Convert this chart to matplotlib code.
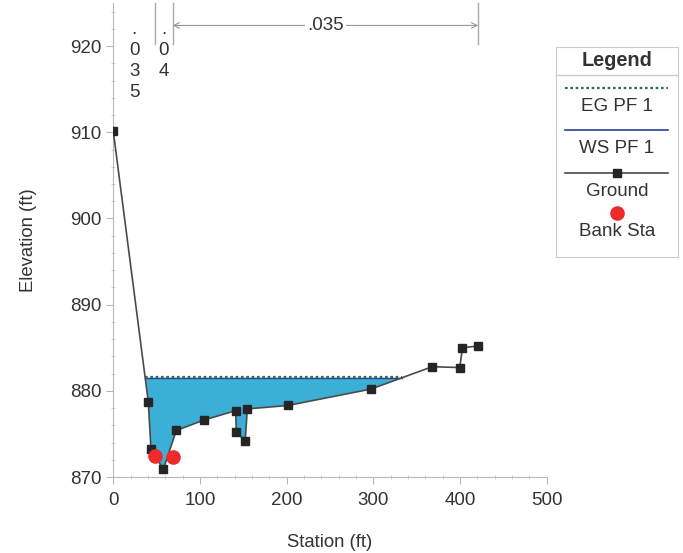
import numpy as np
import matplotlib
matplotlib.use('Agg')
import matplotlib.pyplot as plt

plt.rcParams['font.family'] = ['Liberation Sans', 'DejaVu Sans']

# 地形データ (station, elevation)
station = [0, 40.4, 43.5, 57.7, 72.7, 104.3, 141.2, 141.9, 152.2, 154.6,
           201.5, 297.2, 368.0, 399.7, 402.8, 421.0]
elevation = [910.1, 878.7, 873.2, 870.9, 875.4, 876.6, 877.7, 875.2, 874.2, 877.9,
             878.3, 880.2, 882.8, 882.7, 885.0, 885.2]
bank_sta = [48.1, 68.5]
bank_elev = [872.4, 872.3]
ws_elev = 881.5
eg_elev = 881.65
n_values = ['.035', '.04', '.035']

station = np.array(station)
elevation = np.array(elevation)

fig = plt.figure(figsize=(6.83, 5.53), dpi=100)
ax = fig.add_axes([113.3 / 683, 76 / 553, 433.4 / 683, 474 / 553])

# 水面と地形の交点
below = np.where(elevation < ws_elev)[0]
i0, i1 = below[0], below[-1]
x_left = np.interp(ws_elev, [elevation[i0], elevation[i0 - 1]], [station[i0], station[i0 - 1]])
x_right = np.interp(ws_elev, [elevation[i1], elevation[i1 + 1]], [station[i1], station[i1 + 1]])

poly_x = [x_left] + list(station[i0:i1 + 1]) + [x_right]
poly_y = [ws_elev] + list(elevation[i0:i1 + 1]) + [ws_elev]
ax.fill(poly_x, poly_y, color='#3cafd6', zorder=1, lw=0)

ax.plot([x_left, x_right], [ws_elev, ws_elev], color='#2b3f9a', lw=1.0, zorder=2)
ax.plot([x_left, x_right], [eg_elev, eg_elev], color='#2f6e50', lw=1.6,
        ls=(0, (1.2, 1.2)), zorder=3)

ax.plot(station, elevation, color='#4a4a4a', lw=1.2, marker='s', ms=5.5,
        mfc='#252525', mec='#252525', zorder=4)
ax.plot(bank_sta, bank_elev, ls='none', marker='o', ms=9.5, color='#ee2a2a', zorder=5)

ax.set_xlim(0, 500)
ax.set_ylim(870, 925)
ax.set_xticks(np.arange(0, 501, 100))
ax.set_yticks(np.arange(870, 921, 10))
ax.set_xticks(np.arange(0, 501, 20), minor=True)
ax.set_yticks(np.arange(870, 925, 2), minor=True)

for s in ['top', 'right']:
    ax.spines[s].set_visible(False)
for s in ['left', 'bottom']:
    ax.spines[s].set_color('#b8b8b8')
ax.tick_params(which='major', length=5, color='#b8b8b8', labelsize=13.5,
               labelcolor='#333333')
ax.tick_params(which='minor', length=3, direction='inout', color='#c8c8c8')
ax.tick_params(axis='x', pad=6)

ax.set_xlabel('Station (ft)', fontsize=13.3, color='#333333', labelpad=18)
ax.set_ylabel('Elevation (ft)', fontsize=13.3, color='#333333', labelpad=24)

# マニングの粗度係数
edges = [0, bank_sta[0], bank_sta[1], station[-1]]
for xe in edges[1:]:
    ax.plot([xe, xe], [920.3, 925], color='#aaaaaa', lw=1.0, clip_on=False)
for k in range(2):
    xm = (edges[k] + edges[k + 1]) / 2
    ax.text(xm, 922.9, '\n'.join(n_values[k]), ha='center', va='top',
            fontsize=13.5, color='#333333', linespacing=1.3)
ax.annotate('', xy=(edges[2], 922.4), xytext=(edges[3], 922.4),
            arrowprops=dict(arrowstyle='<->', color='#999999', lw=0.8,
                            shrinkA=0, shrinkB=0))
ax.text((edges[2] + edges[3]) / 2, 922.4, n_values[2], ha='center', va='center',
        fontsize=13.5, color='#333333',
        bbox=dict(facecolor='white', edgecolor='none', pad=1.5))

# 凡例
lg = fig.add_axes([556 / 683, (553 - 257) / 553, 122 / 683, 210 / 553])
lg.set_xlim(556, 678)
lg.set_ylim(257, 47)
lg.set_xticks([])
lg.set_yticks([])
for s in lg.spines.values():
    s.set_color('#cccccc')
xc = 617
lg.plot([556, 678], [75, 75], color='#cccccc', lw=1)
lg.text(xc, 61, 'Legend', ha='center', va='center', fontsize=14.3,
        fontweight='bold', color='#333333')
lg.plot([565, 668], [88, 88], color='#2f6e50', lw=1.6, ls=(0, (1.2, 1.2)))
lg.text(xc, 107, 'EG PF 1', ha='center', va='center', fontsize=13.5, color='#333333')
lg.plot([565, 668], [130, 130], color='#2b3f9a', lw=1.2)
lg.text(xc, 149, 'WS PF 1', ha='center', va='center', fontsize=13.5, color='#333333')
lg.plot([565, 668], [173, 173], color='#4a4a4a', lw=1.2)
lg.plot([xc], [173], marker='s', ms=5.5, color='#252525')
lg.text(xc, 192, 'Ground', ha='center', va='center', fontsize=13.5, color='#333333')
lg.plot([xc], [213], marker='o', ms=9.5, color='#ee2a2a')
lg.text(xc, 232, 'Bank Sta', ha='center', va='center', fontsize=13.5, color='#333333')

fig.savefig('out.png', dpi=100)
